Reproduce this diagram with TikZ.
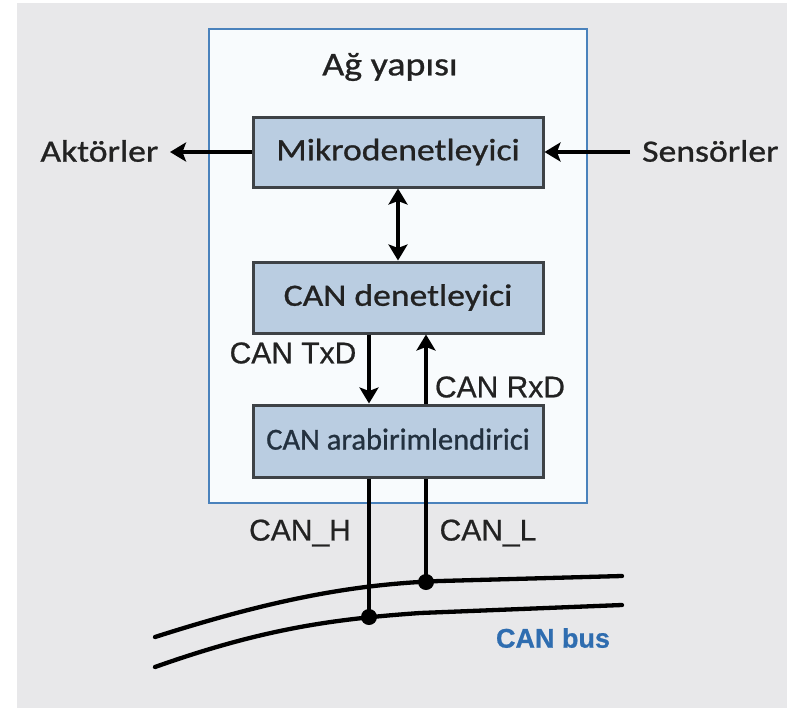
\documentclass[tikz,border=0pt]{standalone}
\usepackage{fontspec}
\setmainfont{Carlito}
\newfontfamily\boxfont[FakeStretch=1.15,FakeBold=0.9]{Carlito}
\newfontfamily\plainbox[FakeBold=0.9]{Carlito}
\newfontfamily\sigfont[FakeBold=0.7]{Liberation Sans}
\usetikzlibrary{arrows.meta}
\definecolor{pagegray}{HTML}{E8E8EA}
\definecolor{framefill}{HTML}{F8FBFD}
\definecolor{frameblue}{HTML}{4A82BC}
\definecolor{boxfill}{HTML}{BACDE1}
\definecolor{boxline}{HTML}{3E4246}
\definecolor{inktext}{HTML}{222222}
\definecolor{trxtext}{HTML}{23313F}
\definecolor{busblue}{HTML}{2F6DB0}
\tikzset{
  block/.style={draw=boxline, line width=3pt, fill=boxfill, minimum width=290pt,
    inner sep=0pt, text=inktext, font=\boxfont\fontsize{31}{36}\selectfont},
  sidelabel/.style={text=inktext, font=\boxfont\fontsize{31}{36}\selectfont, inner ysep=0pt},
  siglabel/.style={text=inktext, font=\sigfont\fontsize{30}{34}\selectfont, inner sep=0pt},
  wire/.style={line width=4.6pt, black},
  sigarrow/.style={wire, -{Stealth[length=16pt,width=19pt,inset=3.5pt]}},
  busline/.style={line width=4.3pt, black, line cap=round},
  joint/.style={circle, fill=black, minimum size=16pt, inner sep=0pt}
}
\begin{document}
\begin{tikzpicture}[x=1pt, y=-1pt]
  % page and background
  \useasboundingbox (0,0) rectangle (788,710);
  \fill[white] (0,0) rectangle (788,710);
  \fill[pagegray] (17,3) rectangle (787,708);

  % network frame
  \draw[frameblue, line width=2.8pt, fill=framefill] (209,29) rectangle (587,503);
  \node[sidelabel, font=\boxfont\fontsize{33}{38}\selectfont] (title) at (390,67) {Ağ yapısı};

  % blocks
  \node[block, minimum height=70pt] (mcu) at (398,152) {Mikrodenetleyici};
  \node[block, minimum height=71pt] (canc) at (398,297.5) {CAN denetleyici};
  \node[block, minimum height=72pt, text=trxtext, font=\plainbox\fontsize{30.5}{36}\selectfont] (trx) at (398,441)
    {\raisebox{4pt}{CAN arabirimlendirici}};

  % side labels
  \node[sidelabel, anchor=east, inner xsep=11.5pt] (act) at (170,151) {Aktörler};
  \node[sidelabel, anchor=west, inner xsep=12pt] (sens) at (630,151) {Sensörler};

  % connections
  \draw[sigarrow] (mcu.west) -- (mcu.west -| act.east);
  \draw[sigarrow] (sens.west |- mcu.east) -- (mcu.east);
  \draw[wire, {Stealth[length=16pt,width=19pt,inset=3.5pt]}-{Stealth[length=16pt,width=19pt,inset=3.5pt]}]
    (mcu.south) -- (canc.north);
  \draw[sigarrow] ([xshift=-29pt]canc.south) -- ([xshift=-29pt]trx.north);
  \draw[sigarrow] ([xshift=28pt]trx.north) -- ([xshift=28pt]canc.south);

  \node[siglabel] (txd) at (293,353) {CAN TxD};
  \node[siglabel] (rxd) at (500,387) {CAN RxD};

  % bus
  \coordinate (hjoin) at (369,617);
  \coordinate (ljoin) at (426,582);
  \draw[busline] (155,637) .. controls (280,597) and (360,584) .. (440,581) -- (622,576);
  \draw[busline] (155,667) .. controls (265,628) and (335,619) .. (420,613) -- (622,605);
  \draw[wire] ([xshift=-29pt]trx.south) -- (hjoin);
  \draw[wire] ([xshift=28pt]trx.south) -- (ljoin);
  \node[joint] (hdot) at (hjoin) {};
  \node[joint] (ldot) at (ljoin) {};

  \node[siglabel] (canh) at (300,533) {CAN\_H};
  \node[siglabel] (canl) at (488,533) {CAN\_L};
  \node[siglabel, text=busblue, font=\sigfont\bfseries\fontsize{27}{32}\selectfont] (bus) at (553,638) {CAN bus};
\end{tikzpicture}
\end{document}
